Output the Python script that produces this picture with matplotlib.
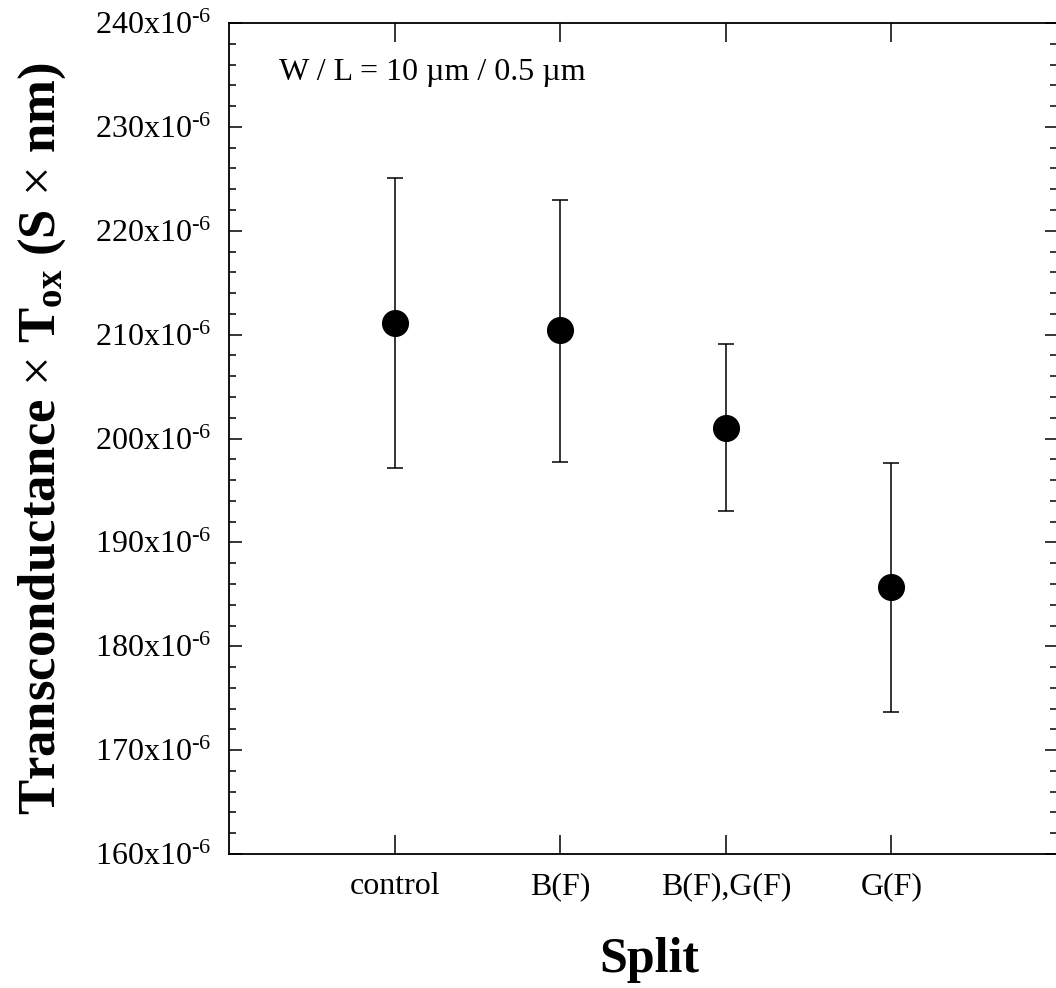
import matplotlib
matplotlib.use("Agg")
import matplotlib.pyplot as plt
from matplotlib.ticker import FixedLocator, MultipleLocator, FuncFormatter

plt.rcParams["font.family"] = "Liberation Serif"
plt.rcParams["mathtext.fontset"] = "custom"
plt.rcParams["mathtext.rm"] = "Liberation Serif"
plt.rcParams["mathtext.it"] = "Liberation Serif:italic"
plt.rcParams["mathtext.bf"] = "Liberation Serif:bold"

# values in units of 1e-6 S*nm
splits = ["control", "B(F)", "B(F),G(F)", "G(F)"]
gm_tox = [211.1, 210.4, 201.05, 185.7]
err_hi = [225.1, 223.0, 209.1, 197.6]
err_lo = [197.2, 197.7, 193.0, 173.7]

xpos = list(range(1, len(splits) + 1))
lower = [m - lo for m, lo in zip(gm_tox, err_lo)]
upper = [hi - m for m, hi in zip(gm_tox, err_hi)]

fig = plt.figure(figsize=(10.56, 9.88), dpi=100)
ax = fig.add_axes([0.2169, 0.1356, 0.7841, 0.8411])

ax.errorbar(xpos, gm_tox, yerr=[lower, upper], fmt="o", color="black",
            markersize=18.5, elinewidth=1.1, capsize=6, capthick=1.1)

ax.set_xlim(0, 5)
ax.set_ylim(160, 240)
ax.xaxis.set_major_locator(FixedLocator(xpos))
ax.set_xticklabels(splits)
ax.yaxis.set_major_locator(MultipleLocator(10))
ax.yaxis.set_minor_locator(MultipleLocator(2))
ax.yaxis.set_major_formatter(FuncFormatter(lambda v, p: f"{v:.0f}x10$^{{\\text{{-6}}}}$"))

ax.tick_params(axis="x", which="major", direction="in", top=True, length=14,
               width=1.1, labelsize=23, pad=13)
ax.tick_params(axis="y", which="major", direction="in", right=True, length=9,
               width=1.1, labelsize=23, pad=13)
ax.tick_params(axis="y", which="minor", direction="in", right=True, length=5,
               width=1.1)
for s in ax.spines.values():
    s.set_linewidth(1.3)

ax.set_xlabel("Split", fontsize=36, fontweight="bold")
ax.xaxis.set_label_coords(0.508, -0.1)
ax.set_ylabel(r"Transconductance $\times$ T$_{\mathbf{ox}}$ (S $\times$ nm)",
              fontsize=38, fontweight="bold", labelpad=19)

ax.text(0.06, 0.94, "W / L = 10 µm / 0.5 µm", transform=ax.transAxes,
        fontsize=23, va="center", ha="left")

fig.savefig("out.png", dpi=100)
